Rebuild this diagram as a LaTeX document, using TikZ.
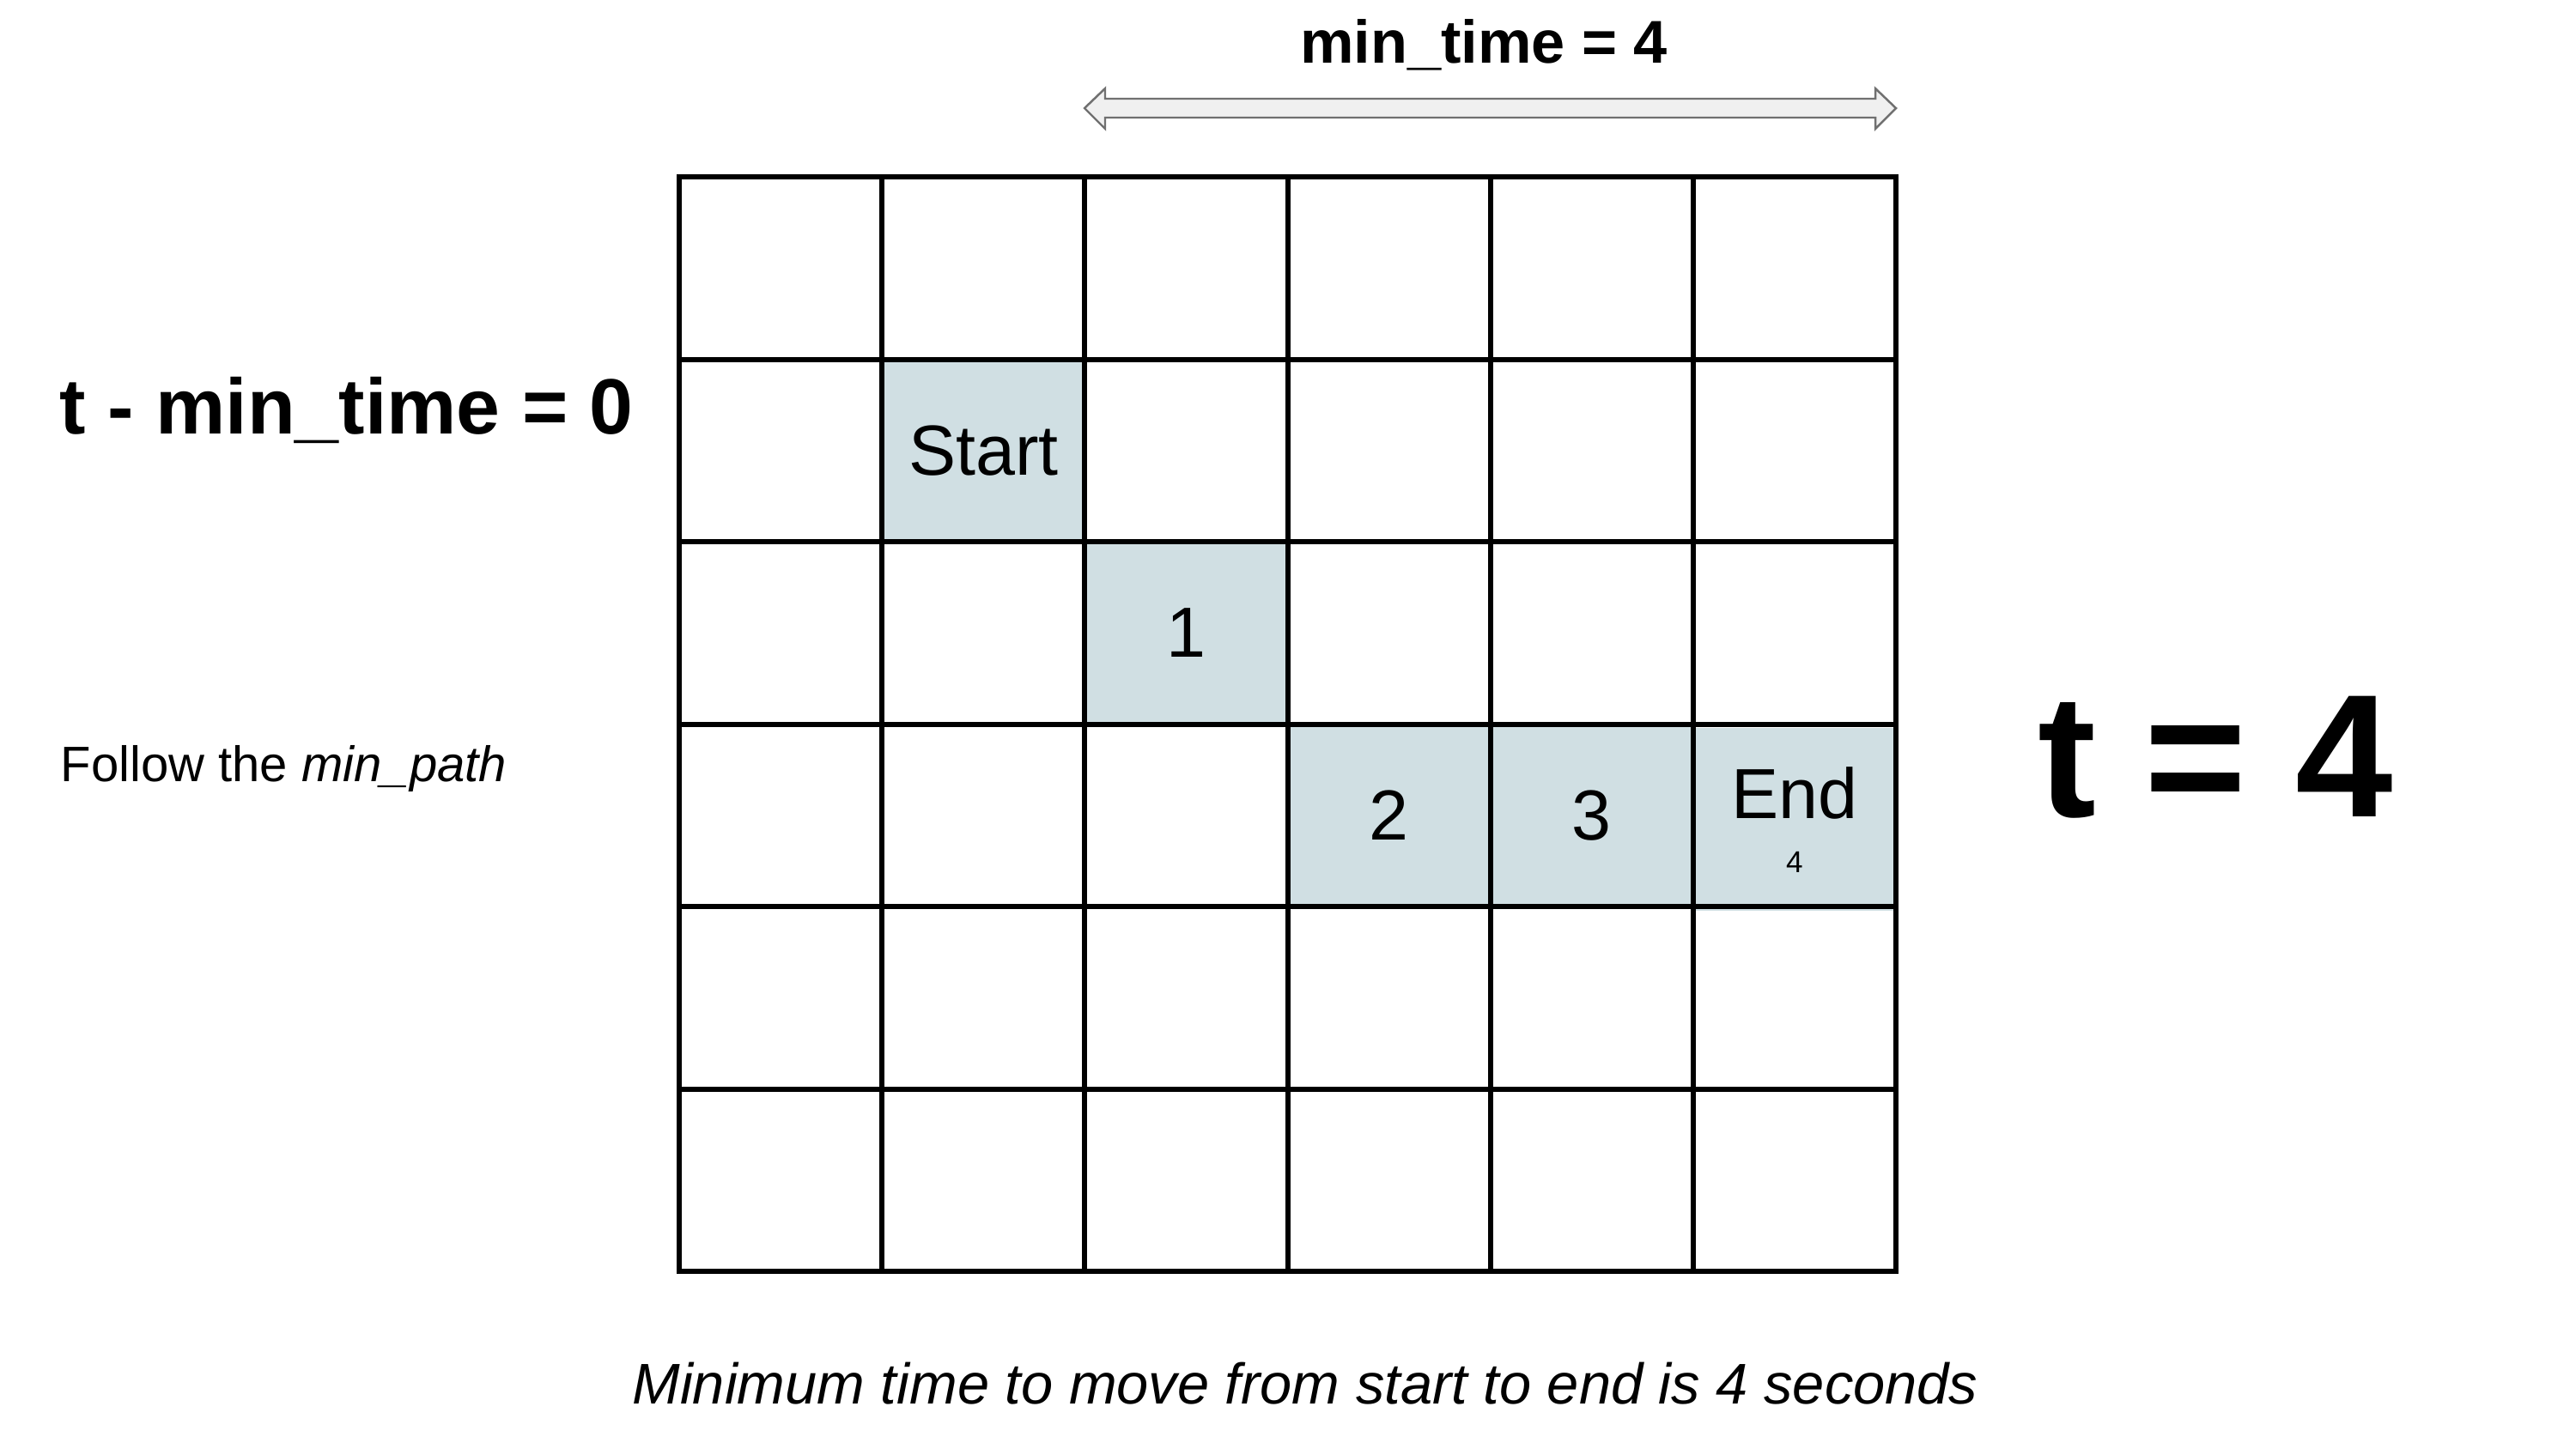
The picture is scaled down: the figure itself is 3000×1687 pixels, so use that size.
\documentclass[tikz,border=0pt]{standalone}
\usepackage{fontspec}
\setmainfont{Liberation Sans}
\usetikzlibrary{arrows.meta, positioning}

\definecolor{pathfill}{HTML}{D0DFE3}
\definecolor{spanfill}{HTML}{F0F0F0}
\definecolor{spanline}{HTML}{707070}

\begin{document}
\begin{tikzpicture}[
        x=0.01cm, y=-0.01cm,
        cell/.style={fill=pathfill, inner sep=0pt, minimum width=2.3617cm, minimum height=2.125cm, align=center, font=\fontsize{23.5}{28}\selectfont},
        gridline/.style={line width=1.7pt, line cap=rect},
        span/.style={draw=spanline, fill=spanfill, line width=0.7pt, line join=miter},
        headline/.style={inner sep=0pt, font=\bfseries\fontsize{20}{24}\selectfont},
        bigline/.style={inner sep=0pt, font=\bfseries\fontsize{26}{31}\selectfont},
        hugeline/.style={inner sep=0pt, font=\bfseries\fontsize{58}{68}\selectfont},
        noteline/.style={inner sep=0pt, font=\fontsize{16.5}{20}\selectfont},
        capline/.style={inner sep=0pt, font=\itshape\fontsize{19}{23}\selectfont}
    ]
    \useasboundingbox (0,0) rectangle (3000,1687);

    % Cells on the min path
    \node[cell] (start) at (791+1.5*236.17, 206+1.5*212.5) {Start};
    \node[cell] (step1) at (791+2.5*236.17, 206+2.5*212.5) {1};
    \node[cell] (step2) at (791+3.5*236.17, 206+3.5*212.5) {2};
    \node[cell] (step3) at (791+4.5*236.17, 206+3.5*212.5) {3};
    \node[cell, yshift=-0.05cm] (end) at (791+5.5*236.17, 206+3.5*212.5) {End\\[-10pt]{\fontsize{10}{12}\selectfont 4}};

    % Grid
    \foreach \i in {0,...,6} {
        \draw[gridline] (791+\i*236.17, 206) -- (791+\i*236.17, 1481);
        \draw[gridline] (791, 206+\i*212.5) -- (2208, 206+\i*212.5);
    }

    % Span of min_time
    \draw[span] (1263,126) -- (1287,103) -- (1287,115) -- (2184,115) -- (2184,103)
        -- (2208,126) -- (2184,150) -- (2184,137) -- (1287,137) -- (1287,150) -- cycle;
    \node[headline, anchor=base] (mintime) at (1728,73) {min\_time = 4};

    % Left notes
    \node[bigline, anchor=base west] (slack) at (69,505) {t - min\_time = 0};
    \node[noteline, anchor=base west] (follow) at (70,910) {Follow the \textit{min\_path}};

    % Right: current time
    \node[hugeline, anchor=base] (tnow) at (2580,951) {t = 4};

    % Caption
    \node[capline, anchor=base] (summary) at (1520,1635) {Minimum time to move from start to end is 4 seconds};

\end{tikzpicture}
\end{document}
